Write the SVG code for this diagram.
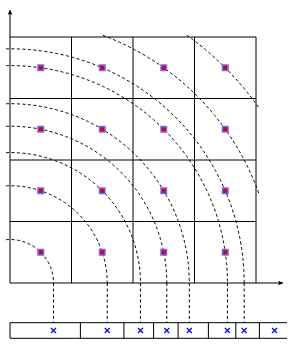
<svg xmlns="http://www.w3.org/2000/svg" width="301" height="346" viewBox="0 0 301 346">
<style>
.grid{stroke:#000;stroke-width:1;fill:none}
.arc{stroke:#000;stroke-width:1;fill:none;stroke-dasharray:3 2.5}
.x{stroke:#0000ff;stroke-width:1.2}
.pt-o{fill:#6b6bff}
.pt-i{fill:#e00000}
</style>
<defs>
<clipPath id="clip"><rect x="5" y="35" width="254" height="300"/></clipPath>
<marker id="ah" viewBox="0 0 10 10" refX="10" refY="5" markerWidth="9" markerHeight="5" markerUnits="userSpaceOnUse" orient="auto">
<path d="M0,0 L10,5 L0,10 L2.5,5 Z" fill="#000"/>
</marker>
<g id="pt"><rect class="pt-o" x="-3.5" y="-3.5" width="7" height="7"/><rect class="pt-i" x="-2" y="-2" width="4" height="4"/></g>
<g id="cr"><path class="x" d="M-2.5,-2.5 L2.5,2.5 M-2.5,2.5 L2.5,-2.5"/></g>
</defs>
<g id="grid" class="grid">
<path d="M10,37 H256 M10,98.5 H256 M10,160 H256 M10,221.5 H256"/>
<path d="M71.5,37 V283 M133,37 V283 M194.5,37 V283 M256,37 V283"/>
</g>
<g id="axes" class="grid">
<line x1="10" y1="283" x2="10" y2="10" marker-end="url(#ah)"/>
<line x1="10" y1="283" x2="283" y2="283" marker-end="url(#ah)"/>
</g>
<g id="connectors">
<g clip-path="url(#clip)" class="arc">
<path d="M6,239.7 A43.49,43.49 0 0 1 53.49,283"/>
<path d="M6,185.84 A97.24,97.24 0 0 1 107.24,283"/>
<path d="M6,152.6 A130.46,130.46 0 0 1 140.46,283"/>
<path d="M6,126.25 A156.8,156.8 0 0 1 166.8,283"/>
<path d="M6,103.74 A179.3,179.3 0 0 1 189.3,283"/>
<path d="M6,65.61 A217.43,217.43 0 0 1 227.43,283"/>
<path d="M6,48.84 A234.19,234.19 0 0 1 244.19,283"/>
<path d="M6,18.51 A264.52,264.52 0 0 1 274.52,283"/>
<path d="M6,-21.38 A304.41,304.41 0 0 1 314.41,283"/>
</g>
<g class="arc">
<path d="M53.49,283 V322.7 M107.24,283 V322.7 M140.46,283 V322.7 M166.8,283 V322.7 M189.3,283 V322.7 M227.43,283 V322.7 M244.19,283 V322.7"/>
</g>
</g>
<g id="points">
<use href="#pt" x="40.75" y="67.75"/><use href="#pt" x="102.25" y="67.75"/><use href="#pt" x="163.75" y="67.75"/><use href="#pt" x="225.25" y="67.75"/>
<use href="#pt" x="40.75" y="129.25"/><use href="#pt" x="102.25" y="129.25"/><use href="#pt" x="163.75" y="129.25"/><use href="#pt" x="225.25" y="129.25"/>
<use href="#pt" x="40.75" y="190.75"/><use href="#pt" x="102.25" y="190.75"/><use href="#pt" x="163.75" y="190.75"/><use href="#pt" x="225.25" y="190.75"/>
<use href="#pt" x="40.75" y="252.25"/><use href="#pt" x="102.25" y="252.25"/><use href="#pt" x="163.75" y="252.25"/><use href="#pt" x="225.25" y="252.25"/>
</g>
<g id="bar" class="grid">
<path d="M287,322.7 H10 V338.3 H287"/>
<path d="M80.4,322.7 V338.3 M123.9,322.7 V338.3 M153.6,322.7 V338.3 M178.1,322.7 V338.3 M208.4,322.7 V338.3 M235.8,322.7 V338.3 M259.4,322.7 V338.3"/>
</g>
<g id="crosses">
<use href="#cr" x="53.49" y="330.5"/><use href="#cr" x="107.24" y="330.5"/><use href="#cr" x="140.46" y="330.5"/><use href="#cr" x="166.8" y="330.5"/>
<use href="#cr" x="189.3" y="330.5"/><use href="#cr" x="227.43" y="330.5"/><use href="#cr" x="244.19" y="330.5"/><use href="#cr" x="274.52" y="330.5"/>
</g>
</svg>
